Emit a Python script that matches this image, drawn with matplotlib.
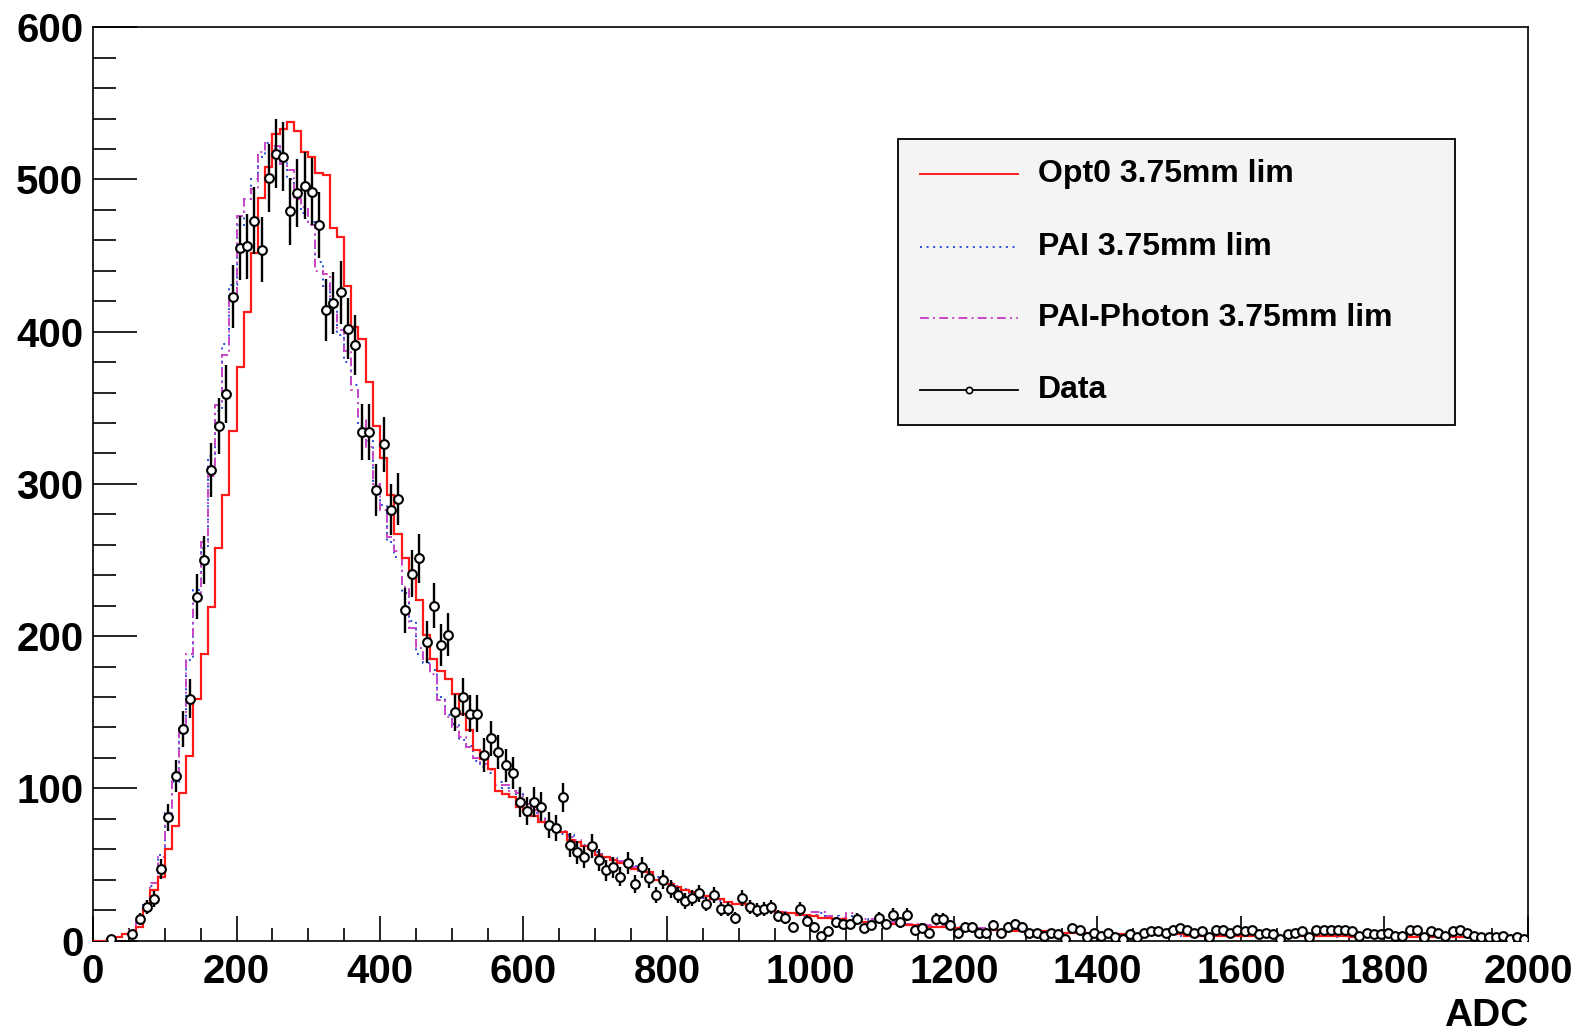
import numpy as np
import matplotlib
matplotlib.use("Agg")
import matplotlib.pyplot as plt
from matplotlib.lines import Line2D
from matplotlib.patches import Rectangle
from matplotlib.ticker import MultipleLocator

plt.rcParams['font.family'] = ['Liberation Sans', 'DejaVu Sans']
plt.rcParams['font.weight'] = 'bold'

# Constants
FIGURE_SIZE = (15.83, 10.32)
DPI = 100
BIN_EDGES = np.arange(0, 2001, 10)   # 200 bins of 10 ADC
RED = '#ff1a1a'
BLUE = '#2b4bd6'
MAGENTA = '#c845c8'

# Measured spectrum (counts per 10 ADC bin, nan = empty bin not drawn)
data_counts = [
    np.nan, np.nan, 1, np.nan, np.nan, 4, 14, 22, 27, 47,
    81, 108, 139, 159, 226, 250, 309, 338, 359, 423,
    455, 456, 473, 454, 501, 517, 515, 479, 491, 496,
    492, 470, 414, 419, 426, 402, 391, 334, 334, 296,
    326, 283, 290, 217, 241, 251, 196, 220, 194, 201,
    150, 160, 149, 149, 122, 133, 124, 115, 110, 91,
    85, 91, 88, 76, 74, 94, 63, 58, 55, 62,
    53, 46, 48, 42, 51, 37, 48, 41, 30, 40,
    34, 30, 26, 28, 31, 24, 30, 21, 21, 15,
    28, 22, 20, 21, 22, 16, 15, 9, 21, 13,
    9, 3, 6, 12, 11, 11, 14, 8, 10, 15,
    11, 17, 12, 17, 7, 8, 5, 14, 14, 10,
    5, 9, 9, 5, 5, 10, 5, 9, 11, 9,
    5, 5, 3, 5, 4, 1, 8, 7, 2, 5,
    3, 5, 2, 1, 4, 2, 5, 6, 6, 5,
    7, 8, 7, 5, 6, 2, 7, 7, 5, 7,
    6, 7, 4, 5, 4, 1, 4, 5, 6, 2,
    7, 7, 7, 7, 7, 6, 3, 5, 4, 4,
    5, 3, 3, 7, 7, 2, 6, 5, 3, 6,
    7, 5, 3, 2, 2, 2, 3, 1, 2, 1,
]

# Simulation: Opt0 physics list
opt0_counts = [
    0, 0, 1, 2, 4, 5, 9, 21, 33, 42,
    60, 75, 97, 121, 159, 188, 219, 258, 293, 335,
    377, 413, 452, 488, 508, 530, 533, 538, 532, 518,
    515, 504, 503, 468, 462, 430, 403, 395, 367, 338,
    317, 293, 267, 251, 239, 224, 201, 185, 177, 172,
    162, 149, 138, 125, 119, 113, 98, 96, 94, 88,
    85, 82, 78, 75, 74, 71, 66, 65, 62, 60,
    56, 55, 53, 51, 50, 47, 46, 45, 40, 40,
    37, 35, 33, 32, 30, 29, 27, 27, 25, 24,
    24, 22, 21, 21, 20, 19, 18, 18, 17, 17,
    16, 15, 15, 14, 14, 13, 13, 12, 12, 12,
    11, 11, 11, 10, 10, 10, 9, 9, 9, 8,
    8, 8, 8, 7, 7, 7, 7, 7, 6, 6,
    6, 6, 6, 5, 5, 5, 5, 5, 5, 5,
    4, 4, 4, 4, 4, 4, 4, 4, 4, 4,
    4, 4, 3, 4, 3, 3, 3, 3, 3, 3,
    3, 3, 3, 3, 3, 3, 3, 3, 3, 3,
    3, 3, 3, 3, 3, 2, 3, 3, 2, 3,
    2, 2, 3, 2, 2, 2, 2, 2, 2, 2,
    2, 2, 2, 2, 2, 2, 2, 2, 2, 2,
]

# Simulation: PAI model
pai_counts = [
    0, 0, 1, 2, 4, 6, 12, 23, 36, 56,
    84, 104, 140, 184, 230, 258, 318, 348, 392, 431,
    470, 487, 500, 515, 524, 520, 514, 500, 490, 478,
    472, 446, 430, 416, 398, 380, 365, 338, 328, 298,
    286, 262, 252, 228, 210, 188, 182, 178, 160, 148,
    142, 132, 128, 118, 114, 110, 104, 100, 96, 98,
    92, 84, 82, 78, 74, 70, 69, 65, 63, 60,
    58, 54, 54, 51, 50, 49, 45, 44, 42, 39,
    38, 35, 34, 31, 31, 28, 28, 26, 25, 24,
    23, 23, 21, 21, 20, 19, 18, 18, 18, 16,
    17, 18, 16, 16, 14, 16, 15, 14, 13, 13,
    12, 12, 12, 11, 10, 11, 10, 9, 10, 9,
    9, 8, 8, 8, 7, 7, 7, 7, 6, 6,
    6, 6, 6, 5, 5, 5, 5, 5, 5, 4,
    4, 5, 4, 4, 4, 4, 4, 4, 4, 4,
    4, 3, 4, 3, 3, 4, 3, 3, 3, 3,
    3, 3, 3, 3, 3, 3, 3, 3, 3, 3,
    3, 3, 3, 2, 3, 3, 3, 3, 2, 3,
    2, 3, 2, 2, 2, 2, 2, 2, 2, 2,
    2, 2, 2, 2, 2, 2, 2, 2, 2, 2,
]

# Simulation: PAI-Photon model
pai_photon_counts = [
    0, 0, 1, 2, 4, 7, 13, 24, 38, 55,
    81, 106, 138, 188, 226, 262, 305, 352, 385, 425,
    476, 487, 494, 518, 524, 522, 510, 506, 487, 482,
    470, 440, 438, 412, 401, 387, 362, 343, 324, 300,
    283, 265, 256, 232, 205, 192, 185, 175, 158, 147,
    140, 134, 127, 120, 116, 112, 102, 102, 98, 97,
    90, 86, 80, 76, 75, 72, 68, 66, 62, 61,
    57, 55, 53, 52, 51, 48, 46, 45, 41, 40,
    37, 36, 33, 32, 30, 29, 28, 27, 25, 24,
    24, 22, 22, 21, 20, 19, 19, 18, 17, 17,
    19, 19, 16, 15, 15, 18, 15, 14, 14, 13,
    13, 12, 12, 11, 11, 11, 10, 10, 10, 9,
    9, 8, 8, 8, 8, 7, 7, 7, 7, 6,
    6, 6, 6, 6, 5, 5, 5, 5, 5, 5,
    5, 4, 4, 4, 4, 4, 4, 4, 4, 4,
    4, 4, 4, 4, 3, 3, 4, 3, 3, 3,
    3, 3, 3, 3, 3, 3, 3, 3, 3, 3,
    3, 3, 3, 3, 3, 3, 3, 2, 3, 3,
    3, 2, 2, 3, 2, 2, 2, 2, 2, 2,
    2, 2, 2, 2, 2, 2, 2, 2, 2, 2,
]

LEGEND_LABELS = ["Opt0 3.75mm lim", "PAI 3.75mm lim",
                 "PAI-Photon 3.75mm lim", "Data"]

DOTTED = (0, (1, 2.4))
DASHDOT = (0, (4.5, 2.2, 1, 2.2))


def draw_histograms(ax):
    """Model histograms as step lines, data as points with sqrt(N) errors."""
    ax.stairs(pai_counts, BIN_EDGES, color=BLUE, lw=1.4, linestyle=DOTTED,
              baseline=None, zorder=2)
    ax.stairs(pai_photon_counts, BIN_EDGES, color=MAGENTA, lw=1.4,
              linestyle=DASHDOT, baseline=None, zorder=2)
    ax.stairs(opt0_counts, BIN_EDGES, color=RED, lw=1.6, baseline=None,
              zorder=3)

    centers = BIN_EDGES[:-1] + 5
    counts = np.array(data_counts, dtype=float)
    ax.errorbar(centers, counts, yerr=np.sqrt(counts), fmt='o', ms=6.3,
                mfc='white', mec='black', mew=1.5, ecolor='black',
                elinewidth=1.7, capsize=0, zorder=4)


def draw_legend(ax):
    """ROOT-like legend box drawn in axes coordinates."""
    ax.add_patch(Rectangle((0.5613, 0.5645), 0.3878, 0.3129,
                           transform=ax.transAxes, facecolor='#f3f4f3',
                           edgecolor='black', lw=1.3, zorder=6))
    rows = [0.8398, 0.7591, 0.6817, 0.6032]
    styles = [dict(color=RED, lw=1.4, ls='-'),
              dict(color=BLUE, lw=1.4, ls=DOTTED),
              dict(color=MAGENTA, lw=1.4, ls=DASHDOT),
              dict(color='black', lw=1.3, ls='-')]
    for y, label, st in zip(rows, LEGEND_LABELS, styles):
        ax.add_line(Line2D([0.5763, 0.6446], [y, y], transform=ax.transAxes,
                           clip_on=False, zorder=7, **st))
        ax.text(0.6585, y, label, transform=ax.transAxes, va='center',
                ha='left', fontsize=23, fontweight='bold', zorder=7)
    ax.add_line(Line2D([0.6105], [rows[3]], transform=ax.transAxes,
                       marker='o', ms=4.5, mfc='white', mec='black', mew=1.2,
                       clip_on=False, zorder=8))


def configure_axes(ax):
    ax.set_xlim(0, 2000)
    ax.set_ylim(0, 600)
    ax.xaxis.set_major_locator(MultipleLocator(200))
    ax.xaxis.set_minor_locator(MultipleLocator(50))
    ax.yaxis.set_major_locator(MultipleLocator(100))
    ax.yaxis.set_minor_locator(MultipleLocator(20))
    ax.tick_params(which='both', direction='in', top=False, right=False,
                   width=1.2, labelsize=29)
    ax.tick_params(axis='x', which='major', length=18, pad=9)
    ax.tick_params(axis='x', which='minor', length=9.5)
    ax.tick_params(axis='y', which='major', length=32, pad=7)
    ax.tick_params(axis='y', which='minor', length=16.5)
    for lab in ax.get_xticklabels() + ax.get_yticklabels():
        lab.set_fontweight('bold')
    for sp in ax.spines.values():
        sp.set_linewidth(1.2)
    ax.set_xlabel('ADC', loc='right', fontsize=28, fontweight='bold',
                  labelpad=5)


def main():
    fig = plt.figure(figsize=FIGURE_SIZE, dpi=DPI)
    ax = fig.add_axes([0.05875, 0.08866, 0.9065, 0.8849])
    draw_histograms(ax)
    configure_axes(ax)
    draw_legend(ax)
    fig.savefig('out.png', dpi=DPI)


if __name__ == "__main__":
    main()
